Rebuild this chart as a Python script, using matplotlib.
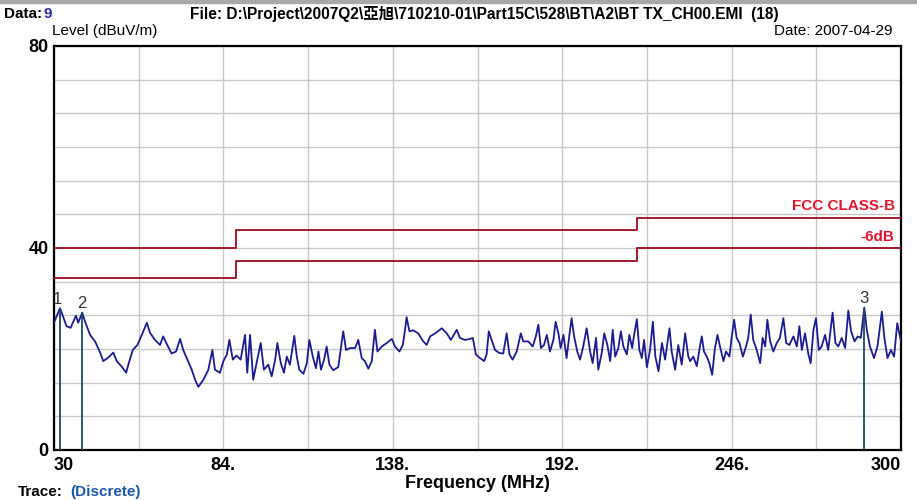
import matplotlib
matplotlib.use("Agg")
import matplotlib.pyplot as plt
from matplotlib.patches import Rectangle
import numpy as np

freq = [30.0, 31.9, 32.5, 34.0, 35.3, 37.0, 37.7, 39.0, 39.9, 41.5, 43.1, 44.7, 45.7, 47.3, 48.9,
        50.0, 51.6, 53.0, 53.7, 55.1, 56.6, 58.0, 59.6, 60.6, 62.2, 63.8, 64.8, 66.1, 67.5, 68.9,
        70.2, 71.2, 72.3, 73.9, 75.0, 76.0, 77.6, 79.2, 80.5, 81.3, 82.9, 84.0, 85.1, 85.9, 87.0,
        88.2, 89.5, 90.9, 91.6, 92.5, 93.5, 94.6, 95.9, 96.9, 98.3, 99.4, 100.5, 101.2, 102.3, 103.3,
        104.2, 105.2, 106.6, 107.4, 108.2, 109.5, 110.6, 111.4, 112.5, 113.5, 114.3, 115.1, 116.1, 116.9, 117.8,
        119.0, 120.6, 122.2, 123.1, 124.4, 126.0, 127.0, 128.1, 129.1, 130.2, 131.3, 132.3, 133.1, 134.5, 136.1,
        137.7, 138.7, 140.1, 141.2, 141.9, 142.4, 143.3, 144.5, 146.1, 147.7, 148.8, 149.9, 151.5, 153.6, 155.2,
        156.5, 158.4, 159.4, 161.0, 162.6, 163.5, 164.5, 165.8, 167.1, 167.9, 168.6, 169.5, 170.6, 172.0, 173.2,
        174.3, 175.2, 176.2, 177.5, 178.8, 179.6, 181.2, 182.6, 183.6, 184.4, 185.2, 186.2, 187.1, 188.1, 189.2,
        189.9, 190.8, 191.5, 192.4, 193.4, 194.3, 195.0, 195.8, 196.8, 197.7, 198.7, 199.8, 200.9, 201.7, 202.8,
        203.5, 204.6, 205.4, 206.4, 207.3, 208.1, 208.9, 209.9, 210.7, 211.5, 212.6, 213.4, 214.3, 215.0, 215.8,
        216.6, 217.4, 218.1, 219.0, 220.0, 220.9, 221.7, 222.7, 223.8, 224.8, 226.2, 226.9, 228.0, 229.0, 230.1,
        231.2, 232.2, 232.8, 233.8, 234.9, 235.9, 236.5, 237.2, 238.1, 238.9, 239.8, 240.7, 241.5, 242.3, 243.4,
        244.2, 245.3, 246.0, 246.8, 247.6, 248.5, 249.6, 250.6, 251.3, 252.1, 252.9, 254.0, 255.1, 255.9, 256.7,
        257.4, 258.3, 259.3, 260.4, 261.4, 262.5, 263.4, 264.4, 265.7, 266.8, 267.6, 268.4, 269.4, 270.5, 271.2,
        272.1, 272.9, 273.8, 274.7, 275.8, 276.8, 278.2, 279.1, 280.0, 281.1, 282.2, 283.2, 284.1, 285.2, 286.2,
        287.2, 288.3, 289.1, 290.1, 291.4, 292.5, 293.9, 294.7, 295.7, 296.8, 297.8, 298.8, 300.0]
level = [25.2, 28.1, 27.1, 24.5, 24.2, 26.6, 25.2, 27.2, 25.4, 22.8, 21.5, 19.3, 17.6, 18.3, 19.3,
         17.6, 16.5, 15.3, 16.9, 19.8, 20.8, 22.8, 25.2, 23.2, 21.8, 20.8, 22.5, 20.8, 19.1, 19.5,
         22.0, 19.8, 18.2, 15.9, 13.9, 12.5, 13.9, 15.9, 19.8, 15.9, 15.3, 17.6, 18.9, 21.8, 17.9,
         18.7, 17.9, 22.8, 15.3, 22.8, 13.9, 17.3, 21.2, 15.9, 16.9, 14.6, 17.9, 21.2, 17.2, 15.3,
         18.5, 16.9, 22.6, 18.5, 15.9, 15.1, 17.2, 21.8, 18.5, 16.2, 19.5, 15.9, 17.9, 20.5, 16.9,
         15.8, 16.4, 23.5, 19.8, 20.2, 20.2, 21.8, 18.2, 17.6, 16.1, 17.6, 23.8, 19.5, 20.5, 21.2,
         22.0, 20.5, 19.5, 20.8, 23.8, 26.3, 23.5, 23.7, 23.1, 21.5, 20.8, 22.5, 23.1, 24.1, 23.1,
         21.8, 23.8, 22.2, 21.8, 22.0, 22.2, 18.9, 18.2, 17.6, 18.9, 23.5, 21.8, 19.8, 19.2, 19.1,
         23.1, 18.9, 17.9, 19.5, 23.1, 21.5, 21.5, 20.5, 22.5, 24.8, 20.2, 20.8, 22.8, 19.5, 21.8,
         25.4, 23.1, 20.2, 22.8, 18.2, 22.8, 26.1, 22.5, 19.5, 17.9, 20.5, 24.1, 19.5, 17.2, 22.2,
         15.9, 19.2, 23.1, 20.8, 17.6, 23.8, 18.5, 20.2, 23.5, 20.5, 18.9, 22.8, 20.2, 23.1, 25.9,
         19.8, 18.2, 21.8, 16.4, 19.8, 25.4, 18.5, 15.6, 21.2, 17.9, 24.1, 19.5, 15.9, 20.8, 16.9,
         23.1, 18.5, 17.6, 18.5, 16.6, 20.5, 22.5, 19.5, 18.5, 17.2, 14.9, 20.2, 22.8, 20.5, 17.6,
         19.5, 18.5, 22.2, 25.8, 22.2, 21.2, 18.5, 20.5, 22.2, 26.8, 21.8, 19.8, 17.2, 22.2, 20.5,
         25.8, 21.5, 19.5, 21.2, 22.2, 26.1, 21.2, 20.8, 22.5, 20.5, 24.5, 19.8, 23.1, 18.9, 17.2,
         23.8, 26.1, 19.8, 20.5, 22.8, 19.8, 27.2, 21.2, 20.5, 22.2, 20.2, 27.6, 23.5, 21.5, 22.5,
         22.2, 28.2, 23.8, 20.5, 18.2, 20.5, 27.4, 22.2, 18.2, 19.8, 18.5, 25.1, 21.5]

# FCC class B limit and the -6 dB line
limit_freq = [30, 88, 216, 300]
limit_fcc = [40, 43.5, 46, 46]
limit_6db = [34, 37.5, 40, 40]

# markers
marker_id = ["1", "2", "3"]
marker_freq = [31.9, 39.0, 288.3]
marker_level = [28.1, 27.2, 28.2]

x_ticks = [30, 84, 138, 192, 246, 300]
x_labels = ["30", "84.", "138.", "192.", "246.", "300"]
y_ticks = [0, 40, 80]

narrow = ["Liberation Sans Narrow", "Liberation Sans"]
cjk = ["Liberation Sans", "Noto Sans CJK TC"]

fig = plt.figure(figsize=(9.17, 5.0), dpi=100)
fig.patches.append(Rectangle((0, 0.994), 1, 0.006, transform=fig.transFigure,
                             color="#a8a8a8", zorder=0))
ax = fig.add_axes([54 / 917, 1 - 450 / 500, (901 - 54) / 917, (450 - 46) / 500])

ax.set_xlim(30, 300)
ax.set_ylim(0, 80)

# grid: 10 x 12 divisions
for f in np.arange(30, 301, 27):
    ax.axvline(f, color="#c8c8c8", lw=1.0, zorder=1)
for v in np.linspace(0, 80, 13):
    ax.axhline(v, color="#c8c8c8", lw=1.0, zorder=1)

ax.step(limit_freq, limit_fcc, where="post", color="#a4182c", lw=1.4, zorder=3)
ax.step(limit_freq, limit_6db, where="post", color="#a4182c", lw=1.4, zorder=3)
ax.text(298, 48.4, "FCC CLASS-B", color="#e0142c", fontsize=11, fontweight="bold",
        ha="right", va="center", family=narrow)
ax.text(298, 42.2, "-6dB", color="#e0142c", fontsize=11, fontweight="bold",
        ha="right", va="center", family=narrow)

ax.plot(freq, level, color="#1c1c90", lw=1.3, zorder=4)

ax.vlines(marker_freq, 0, marker_level, color="#1f4a66", lw=1.3, zorder=5)
for m, f, v in zip(marker_id, marker_freq, marker_level):
    dx = -2 if m == "1" else 0
    ax.annotate(m, (f, v), xytext=(dx, 1), textcoords="offset points", ha="center",
                va="bottom", fontsize=12, color="#333333", family="Liberation Sans")

for s in ax.spines.values():
    s.set_linewidth(1.6)
    s.set_color("black")

ax.set_xticks(x_ticks)
ax.set_xticklabels(x_labels, fontsize=13, fontweight="bold", family=narrow)
ax.set_yticks(y_ticks)
ax.set_yticklabels([str(t) for t in y_ticks], fontsize=13, fontweight="bold", family=narrow)
ax.tick_params(length=0, pad=4)
ax.tick_params(axis="x", pad=5)
xl = ax.get_xticklabels()
xl[0].set_ha("left")
xl[-1].set_ha("right")

ax.set_xlabel("Frequency (MHz)", fontsize=13, fontweight="bold", family=narrow, labelpad=1)

fig.text(4 / 917, 1 - 14 / 500, "Data:", fontsize=11, fontweight="bold", va="center",
         family="Liberation Sans")
fig.text(44 / 917, 1 - 14 / 500, "9", fontsize=11, fontweight="bold", va="center",
         color="#2a2a9a", family="Liberation Sans")
fig.text(190 / 917, 1 - 14 / 500,
         "File: D:\\Project\\2007Q2\\亞旭\\710210-01\\Part15C\\528\\BT\\A2\\BT TX_CH00.EMI  (18)",
         fontsize=11.2, fontweight="bold", va="center", family=cjk)
fig.text(52 / 917, 1 - 31 / 500, "Level (dBuV/m)", fontsize=11, va="center",
         family="Liberation Sans")
fig.text(892 / 917, 1 - 31 / 500, "Date: 2007-04-29", fontsize=11, va="center", ha="right",
         family="Liberation Sans")
fig.text(18 / 917, 1 - 492 / 500, "Trace:", fontsize=11, fontweight="bold", va="center",
         family="Liberation Sans")
fig.text(70 / 917, 1 - 492 / 500, "(Discrete)", fontsize=11, fontweight="bold", va="center",
         color="#1a5aa8", family="Liberation Sans")

fig.savefig("out.png", dpi=100)
